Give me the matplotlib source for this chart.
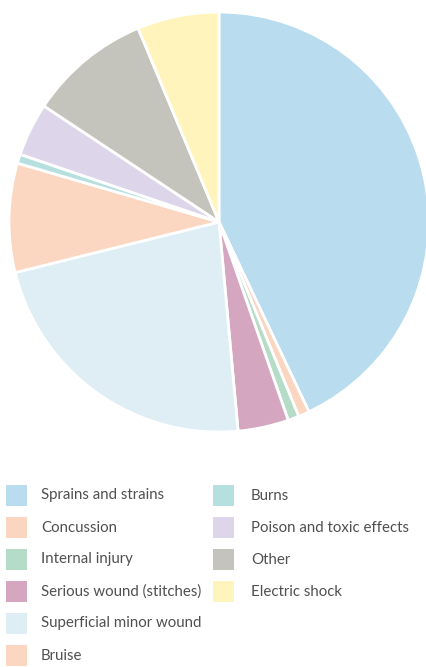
import matplotlib.pyplot as plt
from matplotlib.patches import Rectangle

labels = ["Sprains and strains", "Concussion", "Internal injury",
          "Serious wound (stitches)", "Superficial minor wound", "Bruise",
          "Burns", "Poison and toxic effects", "Other", "Electric shock"]
shares = [43.0, 0.85, 0.85, 3.9, 22.6, 8.4, 0.7, 4.1, 9.4, 6.3]
colors = ["#b9dcee", "#fad5c0", "#b5dcc6", "#d4a6c0", "#dfeef5",
          "#fbd6c1", "#b6e0e0", "#ddd6ea", "#c4c3bc", "#fff5bc"]

W, H = 427, 667
fig = plt.figure(figsize=(W / 100, H / 100), dpi=100)

cx, cy, r = 219, 222, 210
ax = fig.add_axes([(cx - r) / W, (H - cy - r) / H, 2 * r / W, 2 * r / H])
ax.pie(shares, colors=colors, startangle=90, counterclock=False,
       wedgeprops=dict(edgecolor="white", linewidth=2))
ax.set_xlim(-1, 1)
ax.set_ylim(-1, 1)
ax.set_aspect("equal")
ax.axis("off")

# legend: 6 items in the first column, 4 in the second
for i, (lab, col) in enumerate(zip(labels, colors)):
    if i < 6:
        x0, row = 6, i
        tx = 41
    else:
        x0, row = 213, i - 6
        tx = 251
    yc = 495.5 + row * 32
    fig.patches.append(Rectangle((x0 / W, (H - yc - 10.5) / H), 21 / W, 21 / H,
                                 transform=fig.transFigure, facecolor=col,
                                 edgecolor="none"))
    fig.text(tx / W, (H - yc) / H, lab, va="center", ha="left",
             fontsize=10.8, color="#505050", family="Lato")

fig.savefig("out.png", dpi=100)
